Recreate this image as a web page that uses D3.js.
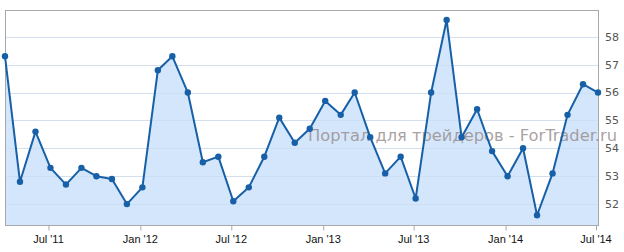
<!DOCTYPE html>
<html>
<head>
<meta charset="utf-8">
<script src="https://cdn.jsdelivr.net/npm/d3@7"></script>
<style>
  body { margin: 0; background: #fff; }
  svg { display: block; }
</style>
</head>
<body>
<div id="chart"></div>
<script>
const width = 624;
const height = 252;

// monthly readings, Apr 2011 .. Jul 2014
const startMonth = '2011-04';
const values = [
  57.3, 52.8, 54.6, 53.3, 52.7, 53.3, 53.0, 52.9, 52.0,
  52.6, 56.8, 57.3, 56.0, 53.5, 53.7, 52.1, 52.6, 53.7, 55.1, 54.2, 54.7,
  55.7, 55.2, 56.0, 54.4, 53.1, 53.7, 52.2, 56.0, 58.6, 54.4, 55.4, 53.9,
  53.0, 54.0, 51.6, 53.1, 55.2, 56.3, 56.0
];
const yTicks = [52, 53, 54, 55, 56, 57, 58];
const watermark = 'Портал для трейдеров - ForTrader.ru';

const start = d3.timeParse('%Y-%m')(startMonth);
const data = values.map((v, i) => ({
  date: d3.timeDay.offset(d3.timeMonth.offset(start, i), 5),
  value: v
}));

const margin = { top: 10, right: 26, bottom: 27, left: 5 };
const innerW = width - margin.left - margin.right;
const innerH = height - margin.top - margin.bottom;

const x = d3.scaleTime()
  .domain(d3.extent(data, d => d.date))
  .range([margin.left, margin.left + innerW]);

const y = d3.scaleLinear()
  .domain([51.25, 58.96])
  .range([margin.top + innerH, margin.top]);

const svg = d3.select('#chart').append('svg')
  .attr('width', width)
  .attr('height', height);

// gridlines
svg.append('g')
  .selectAll('line')
  .data(yTicks)
  .join('line')
    .attr('x1', margin.left)
    .attr('x2', margin.left + innerW)
    .attr('y1', d => Math.round(y(d)) + 0.5)
    .attr('y2', d => Math.round(y(d)) + 0.5)
    .attr('stroke', '#e6e6e6');

// area
const area = d3.area()
  .x(d => x(d.date))
  .y0(margin.top + innerH)
  .y1(d => y(d.value));

svg.append('path')
  .datum(data)
  .attr('fill', '#d3e6fb')
  .attr('d', area);

// gridlines over the area, faint
svg.append('g')
  .selectAll('line')
  .data(yTicks)
  .join('line')
    .attr('x1', margin.left)
    .attr('x2', margin.left + innerW)
    .attr('y1', d => Math.round(y(d)) + 0.5)
    .attr('y2', d => Math.round(y(d)) + 0.5)
    .attr('stroke', '#c6dbf2')
    .attr('stroke-opacity', 0.6);

// frame
svg.append('rect')
  .attr('x', margin.left + 0.5)
  .attr('y', margin.top + 0.5)
  .attr('width', innerW)
  .attr('height', innerH)
  .attr('fill', 'none')
  .attr('stroke', '#a8a8a8');

// watermark
svg.append('text')
  .attr('x', 308)
  .attr('y', 141)
  .attr('font-family', 'DejaVu Sans, sans-serif')
  .attr('font-size', 16)
  .attr('textLength', 309)
  .attr('lengthAdjust', 'spacingAndGlyphs')
  .attr('fill', '#9b8f8f')
  .attr('fill-opacity', 0.85)
  .text(watermark);

// line
const line = d3.line()
  .x(d => x(d.date))
  .y(d => y(d.value));

svg.append('path')
  .datum(data)
  .attr('fill', 'none')
  .attr('stroke', '#1760a8')
  .attr('stroke-width', 2)
  .attr('stroke-linejoin', 'round')
  .attr('d', line);

svg.append('g')
  .selectAll('circle')
  .data(data)
  .join('circle')
    .attr('cx', d => x(d.date))
    .attr('cy', d => y(d.value))
    .attr('r', 3.2)
    .attr('fill', '#1760a8');

// x axis
const fmt = d => d3.timeFormat('%b')(d) + " '" + d3.timeFormat('%y')(d);
const xAxis = svg.append('g')
  .attr('transform', `translate(0,${margin.top + innerH + 0.5})`)
  .call(d3.axisBottom(x)
    .ticks(d3.timeMonth.every(6))
    .tickSize(5)
    .tickFormat(fmt));
xAxis.select('.domain').remove();
xAxis.selectAll('line').attr('stroke', '#a8a8a8').attr('transform', 'translate(0.5,0)');
xAxis.selectAll('text')
  .attr('font-family', 'Liberation Sans, Arial, sans-serif')
  .attr('font-size', 11)
  .attr('fill', '#111')
  .attr('dy', '0.9em');

// y axis (right)
svg.append('g')
  .selectAll('text')
  .data(yTicks)
  .join('text')
    .attr('x', margin.left + innerW + 7)
    .attr('y', d => y(d))
    .attr('dy', '0.35em')
    .attr('font-family', 'DejaVu Sans, sans-serif')
    .attr('font-size', 11)
    .attr('fill', '#555')
    .text(d => d);
</script>
</body>
</html>
